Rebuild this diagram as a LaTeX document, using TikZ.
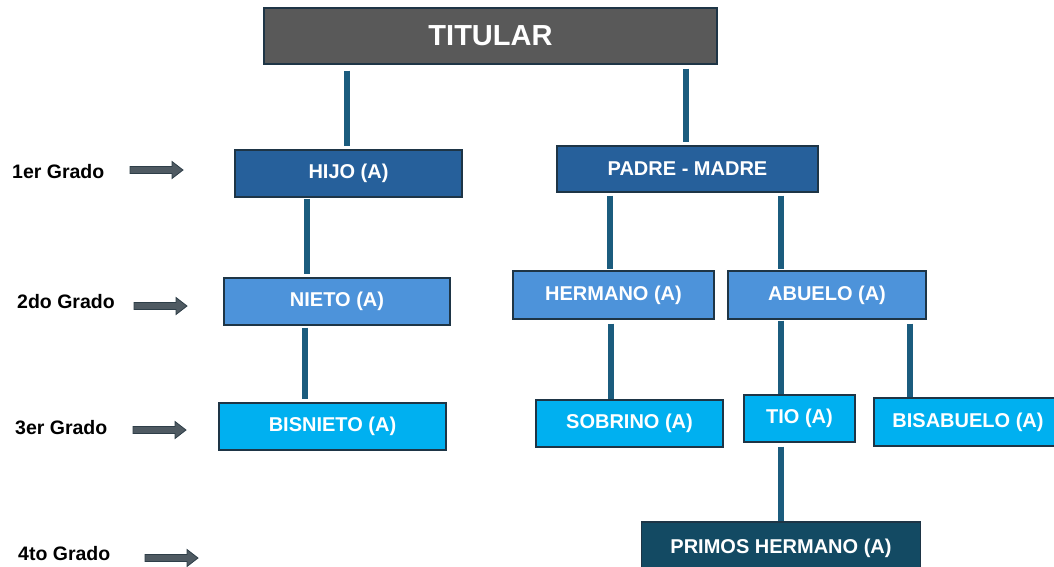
\documentclass[tikz,border=0pt]{standalone}
\usepackage{fontspec}
\setmainfont{Liberation Sans}
\definecolor{titc}{HTML}{595959}
\definecolor{lvone}{HTML}{26609B}
\definecolor{lvtwo}{HTML}{4D93DA}
\definecolor{lvthree}{HTML}{00B0F0}
\definecolor{lvfour}{HTML}{134A63}
\definecolor{connc}{HTML}{1B5C7E}
\definecolor{edgec}{HTML}{1E3546}
\definecolor{arrc}{HTML}{4F5A62}
\definecolor{arre}{HTML}{2E3E48}
\tikzset{
  box/.style={draw=edgec, line width=1.2pt, text=white, font=\fontsize{20}{22}\selectfont\bfseries, inner sep=0pt},
  conn/.style={draw=connc, line width=6pt},
  grado/.style={anchor=west, font=\fontsize{19.5}{21}\selectfont\bfseries, text=black, inner sep=0pt},
  garrow/.style={fill=arrc, draw=arre, line width=0.8pt},
  pics/grarrow/.style={code={
    \path[garrow] (0,-3.5) -- (42,-3.5) -- (42,-8.5) -- (53,0) -- (42,8.5) -- (42,3.5) -- (0,3.5) -- cycle;
  }}
}
\begin{document}
\begin{tikzpicture}[x=1pt,y=-1pt]
\useasboundingbox (0,0) rectangle (1054,566);
\clip (0,0) rectangle (1054,566);
% nodes
\node[box, fill=titc, minimum width=453pt, minimum height=56pt, font=\fontsize{29}{31}\selectfont\bfseries] (tit) at (490.5,36) {TITULAR};
\node[box, fill=lvone, minimum width=227pt, minimum height=47pt] (hijo) at (348.5,173.5) {HIJO (A)};
\node[box, fill=lvone, minimum width=261pt, minimum height=46pt] (padre) at (687.5,169) {PADRE - MADRE};
\node[box, fill=lvtwo, minimum width=226pt, minimum height=47pt] (nieto) at (337,301.5) {NIETO (A)};
\node[box, fill=lvtwo, minimum width=201pt, minimum height=48pt] (hermano) at (613.5,295) {HERMANO (A)};
\node[box, fill=lvtwo, minimum width=198pt, minimum height=48pt] (abuelo) at (827,295) {ABUELO (A)};
\node[box, fill=lvthree, minimum width=227pt, minimum height=47pt] (bisnieto) at (332.5,426.5) {BISNIETO (A)};
\node[box, fill=lvthree, minimum width=187pt, minimum height=47pt] (sobrino) at (629.5,423.5) {SOBRINO (A)};
\node[box, fill=lvthree, minimum width=111pt, minimum height=47pt] (tio) at (799.5,418.5) {TIO (A)};
\node[box, fill=lvthree, minimum width=188pt, minimum height=48pt] (bisabuelo) at (968,422) {BISABUELO (A)};
\node[box, fill=lvfour, minimum width=279pt, minimum height=52pt] (primos) at (781,548) {PRIMOS HERMANO (A)};
% connectors
\draw[conn, shorten <=6pt, shorten >=3pt] ([xshift=-143.5pt]tit.south) -- ([xshift=-1.5pt]hijo.north);
\draw[conn, shorten <=4pt, shorten >=3pt] ([xshift=195.5pt]tit.south) -- ([xshift=-1.5pt]padre.north);
\draw[conn, shorten <=1pt, shorten >=3pt] ([xshift=-41.5pt]hijo.south) -- ([xshift=-30pt]nieto.north);
\draw[conn, shorten <=2pt, shorten >=3pt] ([xshift=-32pt]nieto.south) -- ([xshift=-27.5pt]bisnieto.north);
\draw[conn, shorten <=3pt, shorten >=1pt] ([xshift=-77.5pt]padre.south) -- ([xshift=-3.5pt]hermano.north);
\draw[conn, shorten <=3pt, shorten >=1pt] ([xshift=93.5pt]padre.south) -- ([xshift=-46pt]abuelo.north);
\draw[conn, shorten <=4pt, shorten >=0pt] ([xshift=-2.5pt]hermano.south) -- ([xshift=-18.5pt]sobrino.north);
\draw[conn, shorten <=1pt, shorten >=0pt] ([xshift=-46pt]abuelo.south) -- ([xshift=-18.5pt]tio.north);
\draw[conn, shorten <=4pt, shorten >=0pt] ([xshift=83pt]abuelo.south) -- ([xshift=-58pt]bisabuelo.north);
\draw[conn, shorten <=4pt, shorten >=0pt] ([xshift=-18.5pt]tio.south) -- (primos.north);
% grade labels
\node[grado] (g1) at (12,172) {1er Grado};
\node[grado] (g2) at (17,302) {2do Grado};
\node[grado] (g3) at (15,428) {3er Grado};
\node[grado] (g4) at (18,554) {4to Grado};
\pic at (130,170) {grarrow};
\pic at (134,306) {grarrow};
\pic at (133,430) {grarrow};
\pic at (145,558) {grarrow};
\end{tikzpicture}
\end{document}
